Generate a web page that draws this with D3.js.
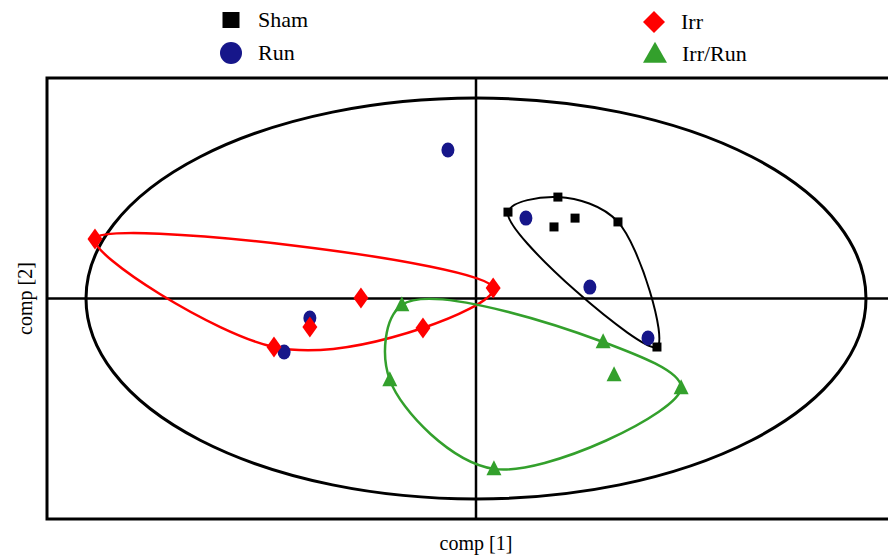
<!DOCTYPE html>
<html><head><meta charset="utf-8">
<script src="https://cdn.jsdelivr.net/npm/d3@7"></script>
<style>body{margin:0;background:#fff}svg{display:block}</style>
</head><body>
<svg id="c" width="888" height="556"></svg>
<script>
// Scores (comp [1], comp [2])
const groups = ["Sham", "Run", "Irr", "Irr/Run"];
const shamX = [0.82, 2.10, 2.00, 2.54, 3.64, 4.64];
const shamY = [4.31, 5.06, 3.57, 4.01, 3.82, -2.42];
const runX = [-0.72, 1.28, 2.92, 4.41, -4.26, -4.92];
const runY = [7.41, 4.01, 0.57, -1.97, -0.97, -2.67];
const irrX = [-9.77, -2.95, -4.26, -5.18, -1.36, 0.44];
const irrY = [2.97, 0.02, -1.42, -2.42, -1.47, 0.52];
const irrRunX = [-1.90, -2.21, 3.26, 3.54, 5.26, 0.46];
const irrRunY = [-0.32, -4.06, -2.17, -3.82, -4.46, -8.50];
const ellipseRadius = [10, 10];
const axisTitles = ["comp [1]", "comp [2]"];

const svg = d3.select("#c");
const x = d3.scaleLinear().domain([-11, 11]).range([47, 905]);
const y = d3.scaleLinear().domain([-11, 11]).range([519, 78]);

const colors = {"Sham": "#000000", "Run": "#16168a", "Irr": "#ff0000", "Irr/Run": "#33a02c"};
const zip = (a, b) => a.map((v, i) => [v, b[i]]);
const data = {
  "Sham": zip(shamX, shamY),
  "Run": zip(runX, runY),
  "Irr": zip(irrX, irrY),
  "Irr/Run": zip(irrRunX, irrRunY)
};

// frame
svg.append("rect").attr("x", x(-11)).attr("y", y(11))
  .attr("width", x(11) - x(-11)).attr("height", y(-11) - y(11))
  .attr("fill", "none").attr("stroke", "#000").attr("stroke-width", 3);

// ellipse
svg.append("ellipse").attr("cx", x(0)).attr("cy", y(0))
  .attr("rx", x(ellipseRadius[0]) - x(0)).attr("ry", y(0) - y(ellipseRadius[1]))
  .attr("fill", "none").attr("stroke", "#000").attr("stroke-width", 3);

// axes through origin
svg.append("line").attr("x1", x(-11)).attr("x2", x(11)).attr("y1", y(0)).attr("y2", y(0))
  .attr("stroke", "#000").attr("stroke-width", 2.5);
svg.append("line").attr("x1", x(0)).attr("x2", x(0)).attr("y1", y(-11)).attr("y2", y(11))
  .attr("stroke", "#000").attr("stroke-width", 2.5);

// hull curves
const line = d3.line().x(d => x(d[0])).y(d => y(d[1])).curve(d3.curveCatmullRomClosed.alpha(0.5));
["Sham", "Irr", "Irr/Run"].forEach(g => {
  const hull = d3.polygonHull(data[g]);
  svg.append("path").attr("d", line(hull)).attr("fill", "none")
    .attr("stroke", colors[g]).attr("stroke-width", g === "Sham" ? 2 : 2.5);
});

function marker(sel, g, w, h) {
  if (g === "Sham") return sel.append("rect").attr("x", -w / 2).attr("y", -h / 2).attr("width", w).attr("height", h).attr("fill", colors[g]);
  if (g === "Run") return sel.append("ellipse").attr("rx", w / 2).attr("ry", h / 2).attr("fill", colors[g]);
  if (g === "Irr") return sel.append("path").attr("d", `M0,${-h / 2}L${w / 2},0L0,${h / 2}L${-w / 2},0Z`).attr("fill", colors[g]);
  return sel.append("path").attr("d", `M0,${-h * 0.58}L${w / 2},${h * 0.42}L${-w / 2},${h * 0.42}Z`).attr("fill", colors[g]);
}
const sizes = {"Sham": [9, 9], "Run": [13, 15], "Irr": [15, 21], "Irr/Run": [15, 15]};
["Sham", "Run", "Irr", "Irr/Run"].forEach(g => {
  data[g].forEach(p => {
    const gg = svg.append("g").attr("transform", `translate(${x(p[0])},${y(p[1])})`);
    marker(gg, g, sizes[g][0], sizes[g][1]);
  });
});

// legend
const legendPos = {"Sham": [231, 20], "Run": [231, 53], "Irr": [654, 22], "Irr/Run": [655, 54]};
const legendSizes = {"Sham": [17, 16], "Run": [22, 22], "Irr": [22, 22], "Irr/Run": [24, 21]};
groups.forEach(g => {
  const [lx, ly] = legendPos[g];
  const gg = svg.append("g").attr("transform", `translate(${lx},${ly})`);
  marker(gg, g, legendSizes[g][0], legendSizes[g][1]);
  svg.append("text").attr("x", lx + 27).attr("y", ly + 7).text(g)
    .attr("font-family", "Liberation Serif, serif").attr("font-size", 22).attr("fill", "#000");
});

// axis titles
svg.append("text").attr("x", x(0)).attr("y", 550).attr("text-anchor", "middle")
  .attr("font-family", "Liberation Serif, serif").attr("font-size", 20).text(axisTitles[0]);
svg.append("text").attr("transform", `translate(32,${y(0)}) rotate(-90)`).attr("text-anchor", "middle")
  .attr("font-family", "Liberation Serif, serif").attr("font-size", 20).text(axisTitles[1]);
</script>
</body></html>
